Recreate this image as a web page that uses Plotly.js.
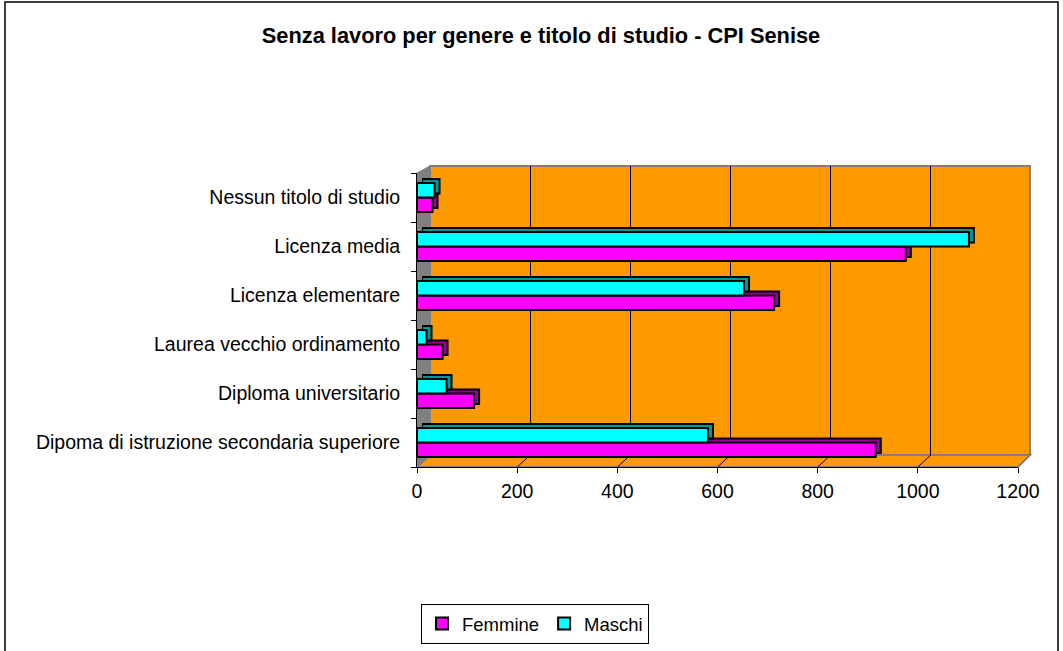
<!DOCTYPE html>
<html>
<head>
<meta charset="utf-8">
<script src="https://cdn.plot.ly/plotly-3.0.1.min.js"></script>
<style>html,body{margin:0;padding:0;background:#fff;}#chart{width:1063px;height:651px;}</style>
</head>
<body>
<div id="chart"></div>
<script>
// ---- data (bottom to top, as drawn) ----
const categories = [
  "Dipoma di istruzione secondaria superiore",
  "Diploma universitario",
  "Laurea vecchio ordinamento",
  "Licenza elementare",
  "Licenza media",
  "Nessun titolo di studio"
];
const femmine = [916, 114, 51, 713, 976, 31];
const maschi  = [581, 59, 19, 653, 1102, 35];
const seriesNames = ["Femmine", "Maschi"];
const xTicks = [0, 200, 400, 600, 800, 1000, 1200];
const titleText = "Senza lavoro per genere e titolo di studio - CPI Senise";

// ---- geometry helpers (pixel -> paper fraction) ----
const W = 1063, H = 651;
const fx = p => p / W;
const fy = p => 1 - p / H;
const FONT = "Liberation Sans, Arial, sans-serif";
const DX = 5, DY = 4;          // bar depth for the 3-D look
const FRONT_L = 417, FRONT_R = 1018, BACK_SHIFT = 13;
const X_MAX = 1200;

function barTrace(name, values, color, xa, ya, legend) {
  return {
    type: "bar", orientation: "h", name: name,
    y: categories, x: values, xaxis: xa, yaxis: ya,
    marker: {color: color, line: {color: "#000000", width: 2}},
    showlegend: legend, hoverinfo: legend ? "x+name" : "skip"
  };
}

const traces = [
  { // carrier for the back-wall gridlines
    type: "scatter", mode: "markers", x: [null], y: [null],
    xaxis: "x", yaxis: "y", showlegend: false, hoverinfo: "skip"
  },
  // depth (side/top faces) of the bars
  barTrace(seriesNames[0], femmine, "#990099", "x2", "y2", false),
  barTrace(seriesNames[1], maschi, "#009999", "x2", "y2", false),
  // front faces
  barTrace(seriesNames[0], femmine, "#FF00FF", "x3", "y3", true),
  barTrace(seriesNames[1], maschi, "#00FFFF", "x3", "y3", true)
];

function pathOf(pts, close) {
  return "M" + pts.map(p => fx(p[0]) + "," + fy(p[1])).join("L") + (close === false ? "" : "Z");
}

const shapes = [
  // back wall
  {type: "rect", xref: "paper", yref: "paper", layer: "below",
   x0: fx(FRONT_L + BACK_SHIFT), x1: fx(FRONT_R + 12), y0: fy(455), y1: fy(166),
   fillcolor: "#FF9900", line: {color: "#808080", width: 2}},
  // left wall
  {type: "path", xref: "paper", yref: "paper", layer: "below",
   path: pathOf([[417, 467], [430, 455], [430, 166], [417, 173]]),
   fillcolor: "#808080", line: {color: "#808080", width: 1}},
  // floor
  {type: "path", xref: "paper", yref: "paper", layer: "below",
   path: pathOf([[417, 467], [430, 455], [1030, 455], [1018, 467]]),
   fillcolor: "#FF9900", line: {color: "#808080", width: 2}},
  // outer frame
  {type: "rect", xref: "paper", yref: "paper", layer: "below",
   x0: fx(5), x1: fx(1058), y0: fy(652), y1: fy(2),
   fillcolor: "rgba(0,0,0,0)", line: {color: "#000000", width: 1.5}}
];
// floor connectors from each front tick to its back gridline (decoration)
const pxPerUnit = (FRONT_R - FRONT_L) / X_MAX;
xTicks.slice(1, -1).forEach(v => {
  const xf = FRONT_L + v * pxPerUnit;
  shapes.push({
    type: "path", xref: "paper", yref: "paper", layer: "below",
    path: pathOf([[xf, 467], [xf + BACK_SHIFT, 455]], false),
    line: {color: "#000000", width: 1}
  });
});

const frontX = [fx(FRONT_L), fx(FRONT_R)];
const frontY = [fy(467), fy(173)];

const catAxis = (dom, anchor, visible) => ({
  domain: dom, anchor: anchor, type: "category",
  categoryorder: "array", categoryarray: categories,
  visible: visible,
  ticks: "outside", ticklen: 5, tickcolor: "#000000", tickwidth: 1,
  tickson: "boundaries", ticklabelstandoff: 12,
  showline: true, linecolor: "#000000", linewidth: 1,
  showgrid: false, zeroline: false, automargin: false, fixedrange: true,
  tickfont: {family: FONT, size: 19.5, color: "#000000"}
});

const layout = {
  width: W, height: H,
  margin: {l: 0, r: 0, t: 0, b: 0},
  paper_bgcolor: "#FFFFFF",
  plot_bgcolor: "rgba(0,0,0,0)",
  font: {family: FONT, size: 19.5, color: "#000000"},
  title: {
    text: "<b>" + titleText + "</b>",
    font: {family: FONT, size: 21.8, color: "#000000"},
    x: fx(541), xanchor: "center", y: fy(35), yanchor: "middle",
    xref: "paper", yref: "paper"
  },
  barmode: "group",
  bargap: 0.41,
  bargroupgap: 0,
  showlegend: true,
  legend: {
    orientation: "h", x: fx(535), xanchor: "center", y: fy(624), yanchor: "middle",
    bordercolor: "#000000", borderwidth: 1, bgcolor: "#FFFFFF",
    font: {family: FONT, size: 18.5, color: "#000000"},
    itemwidth: 30, traceorder: "normal"
  },
  // back wall grid
  xaxis: {
    domain: [fx(FRONT_L + BACK_SHIFT), fx(FRONT_R + BACK_SHIFT)], anchor: "y", range: [0, X_MAX],
    tickvals: xTicks, showticklabels: false, ticks: "",
    showgrid: true, gridcolor: "#000000", gridwidth: 1,
    zeroline: false, showline: false, fixedrange: true
  },
  yaxis: {
    domain: [fy(455), fy(166)], anchor: "x", range: [0, 1],
    visible: false, showgrid: false, zeroline: false, fixedrange: true
  },
  // depth faces (shifted back by the bar depth)
  xaxis2: {
    domain: [frontX[0] + DX / W, frontX[1] + DX / W], anchor: "y2", range: [0, X_MAX],
    visible: false, showgrid: false, zeroline: false, fixedrange: true
  },
  yaxis2: catAxis([frontY[0] + DY / H, frontY[1] + DY / H], "x2", false),
  // front axes with the bars
  xaxis3: {
    domain: frontX, anchor: "y3", range: [0, X_MAX],
    tickvals: xTicks, ticktext: xTicks.map(String),
    ticks: "outside", ticklen: 5, tickcolor: "#000000", tickwidth: 1,
    ticklabelstandoff: 2,
    showline: true, linecolor: "#000000", linewidth: 1,
    showgrid: false, zeroline: false, automargin: false, fixedrange: true,
    tickfont: {family: FONT, size: 19.5, color: "#000000"}
  },
  yaxis3: catAxis(frontY, "x3", true),
  shapes: shapes
};

Plotly.newPlot("chart", traces, layout, {displayModeBar: false, staticPlot: true});
</script>
</body>
</html>
